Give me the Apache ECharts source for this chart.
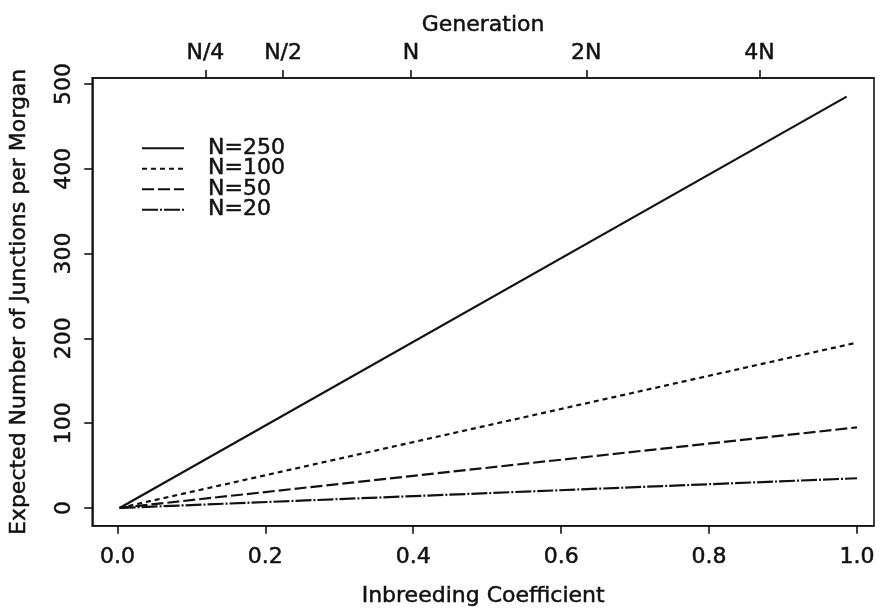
<!DOCTYPE html>
<html>
<head>
<meta charset="utf-8">
<script src="https://cdn.jsdelivr.net/npm/echarts@6/dist/echarts.min.js"></script>
<style>
  html, body { margin: 0; padding: 0; background: #fff; }
  #chart { width: 880px; height: 613px; }
</style>
</head>
<body>
<div id="chart"></div>
<script>
// Expected junctions per Morgan against the inbreeding coefficient F
const seriesNames = ['N=250', 'N=100', 'N=50', 'N=20'];
const fValues = {
  'N=250': [0.003, 0.986],
  'N=100': [0.003, 1.0],
  'N=50':  [0.003, 1.0],
  'N=20':  [0.003, 1.0]
};
const junctionValues = {
  'N=250': [0, 485],
  'N=100': [0, 195],
  'N=50':  [0, 95],
  'N=20':  [0, 35]
};
// Bottom and left tick labels
const fTicks = [0, 0.2, 0.4, 0.6, 0.8, 1.0];
const jTicks = [0, 100, 200, 300, 400, 500];
// Top axis: generations, placed at the matching inbreeding coefficient
const genLabels = ['N/4', 'N/2', 'N', '2N', '4N'];
const genF = [0.119, 0.224, 0.397, 0.634, 0.868];

const dashTypes = ['solid', [5, 4], [12, 4], [16, 2, 2, 2]];
const FONT = 'DejaVu Sans';
const INK = '#111';
// slightly heavier glyphs
const txt = (size) => ({
  fontFamily: FONT, fontSize: size, color: INK,
  textBorderColor: INK, textBorderWidth: 0.5
});

const series = seriesNames.map((name, i) => ({
  name: name,
  type: 'line',
  symbol: 'none',
  animation: false,
  lineStyle: { color: INK, width: 2.2, type: dashTypes[i] },
  itemStyle: { color: INK },
  data: fValues[name].map((f, k) => [f, junctionValues[name][k]])
}));

const axisLineStyle = { color: INK, width: 1.6 };

const chart = echarts.init(document.getElementById('chart'), null, { renderer: 'canvas' });
chart.setOption({
  backgroundColor: '#fff',
  animation: false,
  textStyle: { fontFamily: FONT, color: INK },
  grid: {
    left: 92, right: 6, top: 78, bottom: 81,
    show: true, borderColor: INK, borderWidth: 1.6, backgroundColor: 'transparent'
  },
  legend: {
    orient: 'vertical',
    left: 136, top: 132,
    itemWidth: 42, itemHeight: 14, itemGap: -2,
    itemStyle: { opacity: 0 },
    textStyle: Object.assign(txt(22), { padding: [0, 0, 0, 19] }),
    data: seriesNames
  },
  xAxis: [
    {
      type: 'value', position: 'bottom',
      min: -0.034, max: 1.023,
      name: 'Inbreeding Coefficient', nameLocation: 'middle', nameGap: 60,
      nameTextStyle: txt(22),
      axisLine: { show: true, onZero: false, lineStyle: axisLineStyle },
      axisTick: { show: true, inside: false, length: 8, lineStyle: axisLineStyle, customValues: fTicks },
      axisLabel: Object.assign(txt(22), { margin: 21, customValues: fTicks,
        formatter: v => v.toFixed(1) }),
      splitLine: { show: false }
    },
    {
      type: 'value', position: 'top',
      min: -0.034, max: 1.023,
      name: 'Generation', nameLocation: 'middle', nameGap: 36,
      nameTextStyle: txt(22),
      axisLine: { show: true, onZero: false, lineStyle: axisLineStyle },
      axisTick: { show: true, inside: false, length: 8, lineStyle: axisLineStyle, customValues: genF },
      axisLabel: Object.assign(txt(22), { margin: 14, customValues: genF,
        formatter: v => {
          let best = 0;
          genF.forEach((g, i) => { if (Math.abs(g - v) < Math.abs(genF[best] - v)) best = i; });
          return genLabels[best];
        } }),
      splitLine: { show: false }
    }
  ],
  yAxis: {
    type: 'value',
    min: -21, max: 507,
    name: 'Expected Number of Junctions per Morgan', nameLocation: 'middle', nameGap: 62,
    nameRotate: 90,
    nameTextStyle: txt(22),
    axisLine: { show: true, onZero: false, lineStyle: axisLineStyle },
    axisTick: { show: true, inside: false, length: 8, lineStyle: axisLineStyle, customValues: jTicks },
    axisLabel: Object.assign(txt(22), { margin: 17, rotate: 90, customValues: jTicks }),
    splitLine: { show: false }
  },
  series: series
});
</script>
</body>
</html>
